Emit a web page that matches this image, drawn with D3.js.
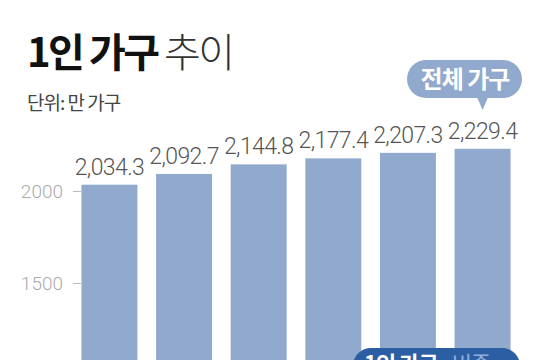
<!DOCTYPE html>
<html>
<head>
<meta charset="utf-8">
<script src="https://d3js.org/d3.v7.min.js"></script>
<style>
    body { margin: 0; background: #fff; }
    svg { display: block; }
    .kr { font-family: "Noto Sans CJK KR", "Noto Sans", sans-serif; }
    .num { font-family: Roboto, "Noto Sans", sans-serif; }
</style>
</head>
<body>
<script>
    // data (unit: 만 가구)
    const years = ["2019", "2020", "2021", "2022", "2023", "2024"];
    const totalHouseholds = [2034.3, 2092.7, 2144.8, 2177.4, 2207.3, 2229.4];
    const tickValues = [1500, 2000];

    const W = 537, H = 360;

    const svg = d3.select("body").append("svg")
        .attr("width", W).attr("height", H);

    // title
    const title = svg.append("text").attr("class", "kr")
        .attr("x", 27).attr("y", 67);
    title.append("tspan").text("1인 가구")
        .attr("font-weight", 700).attr("font-size", 40).attr("letter-spacing", -2.5)
        .attr("fill", "#111");
    title.append("tspan").text(" 추이")
        .attr("font-weight", 300).attr("font-size", 40).attr("letter-spacing", -2.5)
        .attr("fill", "#333");

    svg.append("text").attr("class", "kr")
        .attr("x", 27).attr("y", 110)
        .attr("font-size", 19).attr("letter-spacing", -1).attr("fill", "#444")
        .text("단위: 만 가구");

    // scales
    const x = d3.scaleBand().domain(years).range([74, 518]).paddingInner(0.25).paddingOuter(0.1);
    const y = d3.scaleLinear().domain([1500, 2000]).range([283, 191]);

    // axis (left, light gray)
    const axis = svg.append("g").attr("transform", "translate(81,0)")
        .call(d3.axisLeft(y).tickValues(tickValues).tickSize(8).tickPadding(10).tickFormat(d3.format("d")));
    axis.select(".domain").remove();
    axis.selectAll("line").attr("stroke", "#bbb");
    axis.selectAll("text").attr("class", "num")
        .attr("font-size", 19).attr("font-weight", 300).attr("fill", "#aaa");

    const rows = years.map((yr, i) => ({ yr: yr, v: totalHouseholds[i] }));

    svg.append("g").selectAll("rect")
        .data(rows).enter().append("rect")
        .attr("x", d => x(d.yr))
        .attr("y", d => y(d.v))
        .attr("width", x.bandwidth())
        .attr("height", d => H - y(d.v))
        .attr("fill", "#91a9cc");

    svg.append("g").selectAll("text")
        .data(rows).enter().append("text")
        .attr("class", "num")
        .attr("x", d => x(d.yr) + x.bandwidth() / 2)
        .attr("y", d => y(d.v) - 10)
        .attr("text-anchor", "middle")
        .attr("font-size", 23).attr("font-weight", 300).attr("letter-spacing", -0.6)
        .attr("fill", "#555")
        .text(d => d3.format(",.1f")(d.v));

    // speech bubble over the last bar
    const last = rows[rows.length - 1];
    const bx = x(last.yr) + x.bandwidth() / 2;
    const bubble = svg.append("g");
    bubble.append("rect").attr("x", 407).attr("y", 60).attr("width", 115).attr("height", 38)
        .attr("rx", 19).attr("fill", "#91a9cc");
    bubble.append("path")
        .attr("d", "M" + (bx - 6) + ",96 L" + bx + ",110 L" + (bx + 6) + ",96 Z")
        .attr("fill", "#91a9cc");
    bubble.append("text").attr("class", "kr")
        .attr("x", 465).attr("y", 88).attr("text-anchor", "middle")
        .attr("font-size", 24).attr("font-weight", 700).attr("letter-spacing", -1)
        .attr("fill", "#fff").text("전체 가구");

    // dark bubble at the bottom (cut off by the frame)
    const low = svg.append("g");
    low.append("rect").attr("x", 353).attr("y", 348).attr("width", 167).attr("height", 40)
        .attr("rx", 18).attr("fill", "#2c5ea3");
    const lt = low.append("text").attr("class", "kr").attr("x", 364).attr("y", 372)
        .attr("font-size", 22).attr("font-weight", 700).attr("letter-spacing", -1);
    lt.append("tspan").attr("fill", "#fff").text("1인 가구");
    lt.append("tspan").attr("fill", "#8fb0dc").attr("font-weight", 400).attr("dx", 14).text("비중");
</script>
</body>
</html>
